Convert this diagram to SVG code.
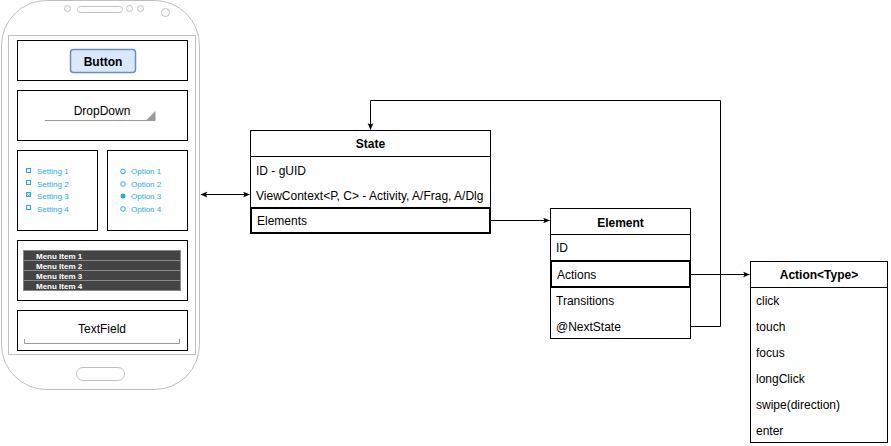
<svg xmlns="http://www.w3.org/2000/svg" width="891" height="446" viewBox="0 0 891 446">
<defs>
<marker id="arr" viewBox="0 0 10 10" refX="9" refY="5" markerWidth="7" markerHeight="7" orient="auto-start-reverse" markerUnits="userSpaceOnUse"><path d="M0,1 L10,5 L0,9 L2,5 Z" fill="#000"/></marker>
</defs>
<style>
text{font-family:"Liberation Sans",Arial,Helvetica,sans-serif;}
.box{fill:#fff;stroke:#000;stroke-width:1;}
.thick{fill:none;stroke:#000;stroke-width:2;}
.hdr{font-size:12px;font-weight:bold;text-anchor:middle;}
.row{font-size:12px;}
.gray{fill:none;stroke:#c0c0c0;stroke-width:1;}
.blue{font-size:8px;fill:#29a9e0;}
.menu{font-size:8px;fill:#fff;font-weight:bold;}
.conn{fill:none;stroke:#000;stroke-width:1;}
.sep{stroke:#000;stroke-width:1;}
</style>
<g id="phone">
<rect class="gray" x="1.5" y="0.5" width="198" height="389" rx="45" ry="45"/>
<rect class="gray" x="8.5" y="35.5" width="187" height="319"/>
<circle class="gray" cx="67.5" cy="8.5" r="3"/>
<rect class="gray" x="77.5" y="6.5" width="45" height="6" rx="3"/>
<circle class="gray" cx="129.5" cy="8.5" r="3"/>
<circle class="gray" cx="140.5" cy="8.5" r="3"/>
<circle class="gray" cx="165.5" cy="12.5" r="4"/>
<rect class="gray" x="76.5" y="367.5" width="48" height="13" rx="6.5"/>
</g>
<g id="button-widget">
<rect class="box" x="17.5" y="40.5" width="170" height="40"/>
<rect x="70.5" y="49.5" width="65" height="23" rx="3" fill="#dae8fc" stroke="#6c8ebf" stroke-width="1.5"/>
<text x="103" y="65.5" font-size="12" font-weight="bold" text-anchor="middle">Button</text>
</g>
<g id="dropdown-widget">
<rect class="box" x="17.5" y="90.5" width="170" height="50"/>
<text x="102" y="115" font-size="12" text-anchor="middle">DropDown</text>
<line x1="45" y1="120.5" x2="155" y2="120.5" stroke="#999" stroke-width="1"/>
<path d="M146,120.5 L155.5,120.5 L155.5,111 Z" fill="#999"/>
</g>
<g id="settings-widget">
<rect class="box" x="17.5" y="150.5" width="80" height="80"/>
<rect x="26.5" y="168.5" width="4" height="4" fill="none" stroke="#29a9e0"/>
<rect x="26.5" y="180.5" width="4" height="4" fill="none" stroke="#29a9e0"/>
<rect x="26.5" y="192.5" width="4" height="4" fill="#cfeaf8" stroke="#29a9e0"/>
<path d="M27.5,194.5 L28.5,195.8 L30,193.5" fill="none" stroke="#29a9e0" stroke-width="0.8"/>
<rect x="26.5" y="205.5" width="4" height="4" fill="none" stroke="#29a9e0"/>
<text class="blue" x="37" y="174">Setting 1</text>
<text class="blue" x="37" y="186.5">Setting 2</text>
<text class="blue" x="37" y="198.5">Setting 3</text>
<text class="blue" x="37" y="211.5">Setting 4</text>
</g>
<g id="options-widget">
<rect class="box" x="107.5" y="150.5" width="80" height="80"/>
<circle cx="123" cy="171.5" r="2.3" fill="none" stroke="#29a9e0"/>
<circle cx="123" cy="184" r="2.3" fill="none" stroke="#29a9e0"/>
<circle cx="123" cy="196" r="2.5" fill="#29a9e0"/>
<circle cx="123" cy="209" r="2.3" fill="none" stroke="#29a9e0"/>
<text class="blue" x="131" y="174">Option 1</text>
<text class="blue" x="131" y="186.5">Option 2</text>
<text class="blue" x="131" y="198.5">Option 3</text>
<text class="blue" x="131" y="211.5">Option 4</text>
</g>
<g id="menu-widget">
<rect class="box" x="17.5" y="240.5" width="170" height="60"/>
<rect x="23.5" y="250.5" width="157" height="10" fill="#444" stroke="#888"/>
<rect x="23.5" y="260.5" width="157" height="10" fill="#444" stroke="#888"/>
<rect x="23.5" y="270.5" width="157" height="10" fill="#444" stroke="#888"/>
<rect x="23.5" y="280.5" width="157" height="10" fill="#444" stroke="#888"/>
<text class="menu" x="36" y="259">Menu Item 1</text>
<text class="menu" x="36" y="269">Menu Item 2</text>
<text class="menu" x="36" y="279">Menu Item 3</text>
<text class="menu" x="36" y="289">Menu Item 4</text>
</g>
<g id="textfield-widget">
<rect class="box" x="17.5" y="310.5" width="170" height="40"/>
<text x="102" y="333" font-size="12" text-anchor="middle">TextField</text>
<path d="M24.5,339 L24.5,343.5 L179.5,343.5 L179.5,339" fill="none" stroke="#999"/>
</g>
<g id="state">
<rect class="box" x="250.5" y="130.5" width="240" height="103"/>
<line class="sep" x1="250.5" y1="156.5" x2="490.5" y2="156.5"/>
<text class="hdr" x="370.5" y="147.5">State</text>
<text class="row" x="256" y="175">ID - gUID</text>
<text class="row" x="256" y="200">ViewContext&lt;P, C&gt; - Activity, A/Frag, A/Dlg</text>
<rect class="thick" x="251" y="208" width="239" height="25"/>
<text class="row" x="257" y="225">Elements</text>
</g>
<g id="element">
<rect class="box" x="550.5" y="208.5" width="140" height="130"/>
<line class="sep" x1="550.5" y1="234.5" x2="690.5" y2="234.5"/>
<text class="hdr" x="620.5" y="226.5">Element</text>
<text class="row" x="556" y="252">ID</text>
<rect class="thick" x="551" y="261" width="139" height="26"/>
<text class="row" x="557" y="278.5">Actions</text>
<text class="row" x="556" y="305">Transitions</text>
<text class="row" x="556" y="331">@NextState</text>
</g>
<g id="action">
<rect class="box" x="750.5" y="261.5" width="137" height="181"/>
<line class="sep" x1="750.5" y1="287.5" x2="887.5" y2="287.5"/>
<text class="hdr" x="819" y="279">Action&lt;Type&gt;</text>
<text class="row" x="756" y="305">click</text>
<text class="row" x="756" y="331">touch</text>
<text class="row" x="756" y="357">focus</text>
<text class="row" x="756" y="383">longClick</text>
<text class="row" x="756" y="409">swipe(direction)</text>
<text class="row" x="756" y="435">enter</text>
</g>
<g id="connectors">
<line class="conn" x1="201" y1="194.5" x2="249.5" y2="194.5" marker-start="url(#arr)" marker-end="url(#arr)"/>
<line class="conn" x1="491" y1="220.5" x2="549.5" y2="220.5" marker-end="url(#arr)"/>
<line class="conn" x1="691" y1="274.5" x2="749.5" y2="274.5" marker-end="url(#arr)"/>
<path class="conn" d="M691,326.5 L720.5,326.5 L720.5,100.5 L370.5,100.5 L370.5,129.5" marker-end="url(#arr)"/>
</g>
</svg>
